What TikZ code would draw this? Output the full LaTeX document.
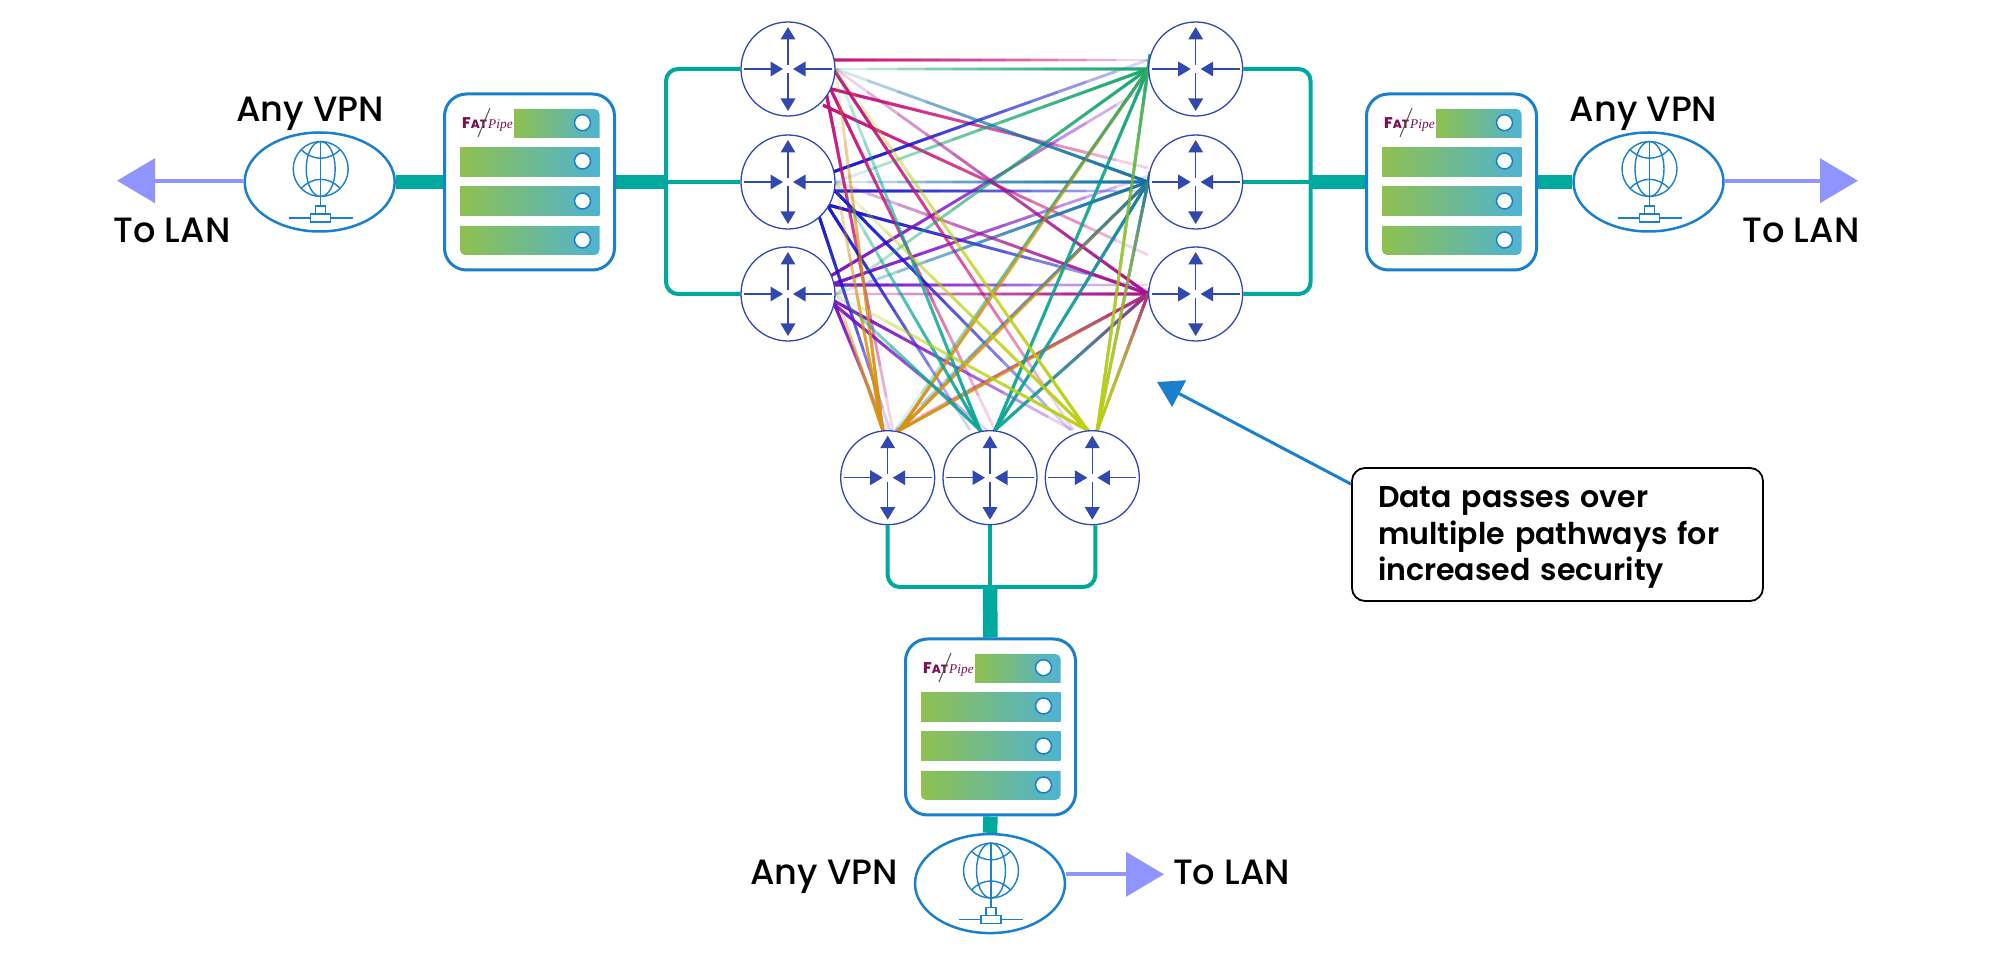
\documentclass[tikz,border=0pt]{standalone}
\usepackage{fontspec}
\setmainfont{Poppins Medium}
\newfontfamily\notefont{Poppins SemiBold}
\newfontfamily\pipefont{Liberation Serif}
\usetikzlibrary{arrows.meta,calc,backgrounds,shapes.geometric}

\definecolor{teal bus}{HTML}{00A99D}
\definecolor{edge blue}{HTML}{1B80CC}
\definecolor{router blue}{HTML}{3148AE}
\definecolor{lan blue}{HTML}{8F94FF}
\definecolor{bar green}{HTML}{8FC04F}
\definecolor{bar cyan}{HTML}{4FB3D2}
\definecolor{logo red}{HTML}{7A1050}
% one colour per router for its outgoing lines
\definecolor{lineL1}{HTML}{C8107A}
\definecolor{lineL2}{HTML}{1515D0}
\definecolor{lineL3}{HTML}{7D10C8}
\definecolor{lineR1}{HTML}{16A870}
\definecolor{lineR2}{HTML}{0F6FA8}
\definecolor{lineR3}{HTML}{A6108F}
\definecolor{lineB1}{HTML}{D8900F}
\definecolor{lineB2}{HTML}{0AA898}
\definecolor{lineB3}{HTML}{BCD010}

\tikzset{
  router/.style={circle,draw=router blue,line width=.13mm,fill=white,minimum size=9.4mm,inner sep=0pt,
    path picture={
      \foreach \a in {90,270}
        \draw[router arrow] ([shift={(\a:.4mm)}]path picture bounding box.center) -- ([shift={(\a:4.2mm)}]path picture bounding box.center);
      \foreach \a in {0,180}
        \draw[router arrow] ([shift={(\a:4.4mm)}]path picture bounding box.center) -- ([shift={(\a:.5mm)}]path picture bounding box.center);
    }},
  router arrow/.style={draw=router blue,line width=.15mm,-{Triangle[length=1.25mm,width=1.46mm]}},
  meshstroke/.style={line width=.28mm,draw opacity=.18},
  busthin/.style={draw=teal bus,line width=.4mm,rounded corners=1.2mm},
  busthick/.style={draw=teal bus,line width=1.45mm},
  lanline/.style={draw=lan blue,line width=.4mm,-{Triangle[length=3.8mm,width=4.4mm]}},
  label/.style={font=\fontsize{10}{12}\selectfont,text=black,anchor=base,inner sep=0pt},
  notebox/.style={draw=black,line width=.18mm,fill=white,rounded corners=1.3mm,minimum width=41.1mm,minimum height=13.3mm,
    text width=35.9mm,text height=7.8pt,align=left,inner sep=0pt,font=\notefont\fontsize{8.55}{10.35}\selectfont},
  noteline/.style={draw=edge blue,line width=.3mm,-{Triangle[length=2.5mm,width=2.95mm]}},
  pics/fatserver/.style={code={
    \node[draw=edge blue,line width=.3mm,fill=white,rounded corners=2.2mm,minimum width=17mm,minimum height=17.6mm,inner sep=0pt] (-box) at (0,0) {};
    % bars, the top and bottom ones with rounded corners
    \shade[left color=bar green,right color=bar cyan] (-15.5,-44) -- (-15.5,-73) [rounded corners=.5mm] -- (70,-73) [sharp corners] -- (70,-44) -- cycle;
    \shade[left color=bar green,right color=bar cyan] (-69.5,-34) rectangle (70,-5);
    \shade[left color=bar green,right color=bar cyan] (-69.5,5) rectangle (70,34);
    \shade[left color=bar green,right color=bar cyan] (-69.5,44) [rounded corners=.5mm] -- (-69.5,73) -- (70,73) [sharp corners] -- (70,44) -- cycle;
    \foreach \y in {-59.3,-21,19,58}
      \draw[draw=edge blue,line width=.15mm,fill=white] (53,\y) circle (.8mm);
    % logo
    \node[anchor=base west,inner sep=0pt,text=logo red,font=\fontsize{4.4}{5}\selectfont\bfseries] (-fat) at (-68,-53.7) {F\fontsize{3.4}{5}\selectfont AT};
    \node[anchor=base west,inner sep=0pt,text=logo red,font=\pipefont\itshape\fontsize{3.8}{5}\selectfont] (-pipe) at (-42,-53.7) {Pipe};
    \draw[draw=logo red!70!green,line width=.1mm] (-39.5,-74) -- (-51.5,-45);
  }},
  pics/vpn/.style={code={
    \node[ellipse,draw=edge blue,line width=.25mm,fill=white,minimum width=15mm,minimum height=9.9mm,inner sep=0pt] (-cloud) at (0,0) {};
    \begin{scope}[draw=edge blue,line width=.14mm]
      % globe
      \draw (1,-13) circle (2.75mm);
      \draw (1,-13) ellipse (1.45mm and 2.75mm);
      \draw (1,-40.5) -- (1,24);
      \draw (-18,-32) .. controls (-7,-21) and (9,-21) .. (20,-32);
      \draw (-18,6) .. controls (-7,-5.5) and (9,-5.5) .. (20,6);
      % network tap
      \draw (-4,32) -- (-4,24) -- (6,24) -- (6,32);
      \draw (-9,32) rectangle (11,40);
      \draw (-31,36) -- (-9,36) (11,36) -- (33,36);
    \end{scope}
  }},
}

% mesh line: solid at the first point, fading out towards the second
\newcommand{\meshlink}[3]{
  \coordinate (linkbase) at (#1);
  \coordinate (linkend) at (#2);
  \coordinate (linkstart) at ($(linkbase)!-.04!(linkend)$);
  \foreach \k in {1,...,20}
    \draw[meshstroke,draw=#3] (linkstart) -- ($(linkstart)!\k*\k/400!(linkend)$);
}

\begin{document}
\begin{tikzpicture}[x=.1mm,y=-.1mm]
  \useasboundingbox (0,0) rectangle (2000,958);

  % Routers
  \foreach \name/\px/\py in {L1/788/69,L2/788/182,L3/788/294,R1/1195.7/69,R2/1195.7/182,R3/1195.7/294,B1/887.7/477.7,B2/990/477.7,B3/1092.3/477.7}
    \node[router] (\name) at (\px,\py) {};

  % Servers and VPN clouds
  \pic (S1) at (529.5,182) {fatserver};
  \pic (S2) at (1451.5,182) {fatserver};
  \pic (S3) at (990.5,727) {fatserver};
  \pic (V1) at (319.7,182) {vpn};
  \pic (V2) at (1648.5,182) {vpn};
  \pic (V3) at (990,883.6) {vpn};

  \coordinate (busL) at (666,182);
  \coordinate (busR) at (1310.6,182);
  \coordinate (busB) at (990,587);
  \coordinate (lanL) at (117,180.7);
  \coordinate (lanR) at (1858,180.7);
  \coordinate (lanB) at (1164,874.3);

  \begin{scope}[on background layer]
    \fill[white] (0,0) rectangle (2000,958);
    % Left to right, offsets read per pair
    \foreach \from/\ya/\dest/\yb in {L1/-9/R1/-9,L1/21/R2/-14,L1/42/R3/-39,L2/-11/R1/-9,L2/9/R2/9,L2/25/R3/-4,L3/-21/R1/17,L3/-11/R2/-6,L3/-9/R3/-9}
      {\meshlink{$(\from.east)+(0,\ya)$}{$(\dest.west)+(0,\yb)$}{line\from}}
    % Left to bottom
    \foreach \from/\sx/\sy/\dest/\bx in {L1/41/38/B1/5,L1/43/21/B2/5,L1/48/4/B3/-19,L2/32/37/B1/2,L2/41/26/B2/-20,L2/47/9/B3/-22,L3/48/14/B1/-2,L3/48/12/B2/-3,L3/48/8/B3/-20}
      {\meshlink{$(\from.center)+(\sx,\sy)$}{$(\dest.north)+(\bx,0)$}{line\from}}
    % Right to left and bottom
    \foreach \from in {R1,R2,R3}
      {\foreach \dest in {L1,L2,L3}
        {\meshlink{\from.west}{\dest.east}{line\from}}
       \foreach \dest/\bx in {B1/8,B2/5,B3/5}
        {\meshlink{\from.west}{$(\dest.north)+(\bx,0)$}{line\from}}}
    % Bottom to left and right
    \foreach \from/\lx/\rx in {B1/-5/12,B2/-10/5,B3/-5/5}
      {\foreach \dest in {L1,L2,L3}
        {\meshlink{$(\from.north)+(\lx,0)$}{\dest.east}{line\from}}
       \foreach \dest in {R1,R2,R3}
        {\meshlink{$(\from.north)+(\rx,0)$}{\dest.west}{line\from}}}

    % Buses
    \draw[busthin] (L1.west) -- (busL |- L1.west) -- (busL |- L3.west) -- (L3.west);
    \draw[busthin] (busL) -- (L2.west);
    \draw[busthin] (R1.east) -- (busR |- R1.east) -- (busR |- R3.east) -- (R3.east);
    \draw[busthin] (busR) -- (R2.east);
    \draw[busthin] (B1.south) |- (busB) -| ($(B3.south)+(3,0)$);
    \draw[busthin] (B2.south) -- (busB);
    \draw[busthick] (V1-cloud.east) -- (S1-box.west);
    \draw[busthick] (S1-box.east) -- (busL);
    \draw[busthick] (busR) -- (S2-box.west);
    \draw[busthick] (S2-box.east) -- (V2-cloud.west);
    \draw[busthick] (busB) -- (S3-box.north);
    \draw[busthick] (S3-box.south) -- (V3-cloud.north);
  \end{scope}

  % To the LANs
  \draw[lanline] (V1-cloud.west |- lanL) -- (lanL);
  \draw[lanline] (V2-cloud.east |- lanR) -- (lanR);
  \draw[lanline] (V3-cloud.east |- lanB) -- (lanB);

  % Labels
  \node[label] (vpn1) at (310,121.7) {Any VPN};
  \node[label] (lan1) at (172,243) {To LAN};
  \node[label] (vpn2) at (1643.5,121.7) {Any VPN};
  \node[label] (lan2) at (1801,243) {To LAN};
  \node[label] (vpn3) at (824,885) {Any VPN};
  \node[label] (lan3) at (1231.5,885) {To LAN};

  % Note
  \node[notebox] (note) at (1557.5,534.5) {Data passes over\\multiple pathways for\\increased security};
  \coordinate (notefoot) at ($(note.north west)+(0,17)$);
  \coordinate (notetip) at (1157,382);
  \draw[noteline] (notefoot) -- (notetip);
\end{tikzpicture}
\end{document}
